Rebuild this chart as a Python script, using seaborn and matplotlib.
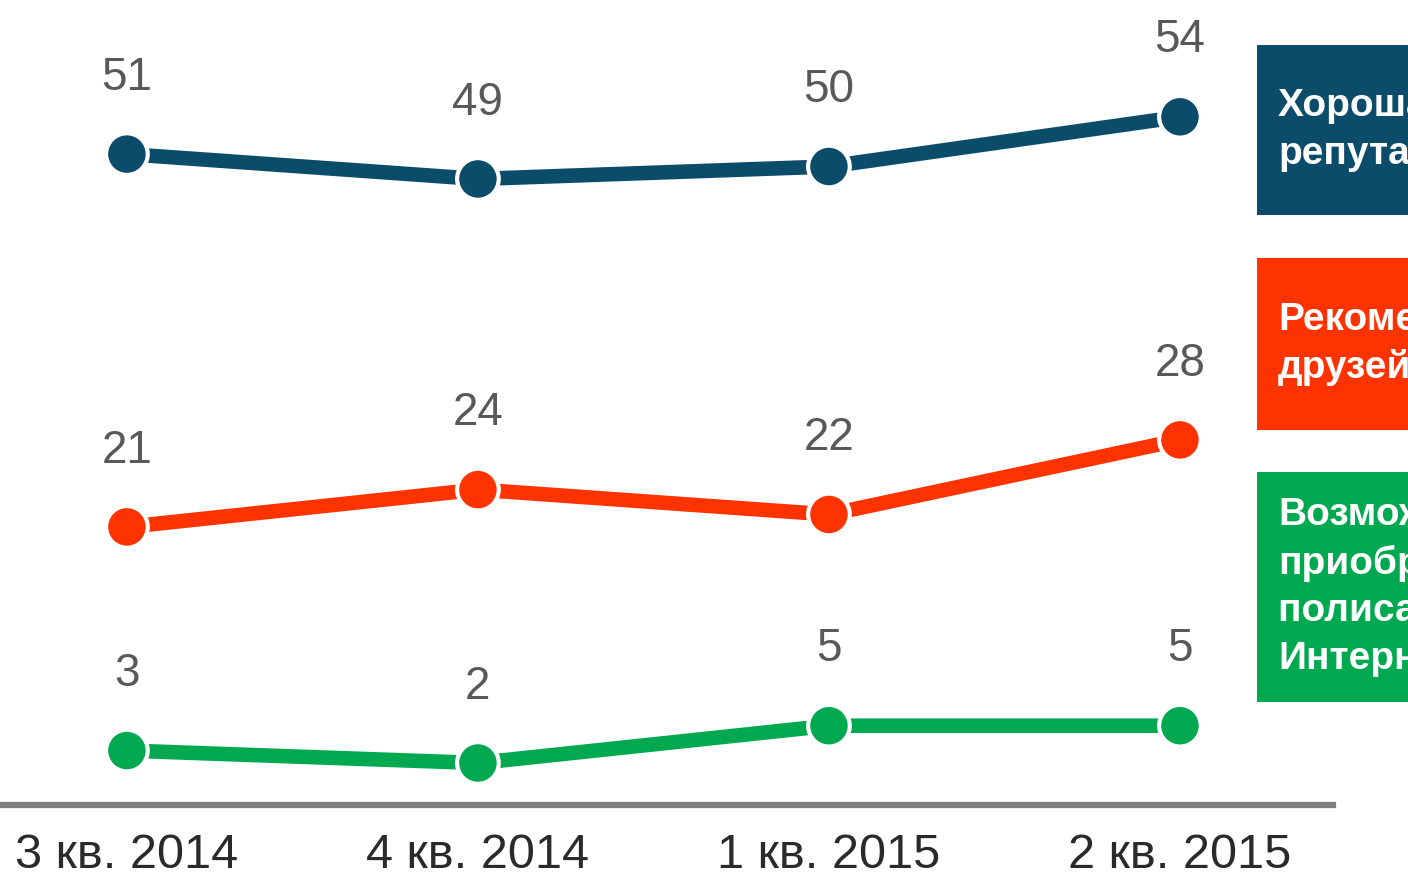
import matplotlib.pyplot as plt
import matplotlib.patches as mpatches
import pandas as pd
import seaborn as sns

# data
quarters = ['3 кв. 2014', '4 кв. 2014', '1 кв. 2015', '2 кв. 2015']
reputation = [51, 49, 50, 54]
friends = [21, 24, 22, 28]
internet = [3, 2, 5, 5]

series_names = ['Хорошая репутация', 'Рекомендации друзей',
                'Возможность приобретения полиса в Интернете']
box_texts = ['Хорошая\nрепутация', 'Рекомендации\nдрузей',
             'Возможность\nприобретения\nполиса в\nИнтернете']
colors = ['#0b4c6a', '#ff3300', '#00a84f']

rows = []
for name, vals in zip(series_names, [reputation, friends, internet]):
    for i, v in enumerate(vals):
        rows.append({'pos': i, 'value': v, 'series': name})
df = pd.DataFrame(rows)

sns.set_style('white')
plt.rcParams['font.family'] = ['Liberation Sans', 'DejaVu Sans']

fig = plt.figure(figsize=(14.08, 8.84), dpi=100)
ax = fig.add_axes([3 / 1408, 1 - 805 / 884, 1330 / 1408, 805 / 884])

palette = dict(zip(series_names, colors))
sns.lineplot(data=df, x='pos', y='value', hue='series', palette=palette,
             linewidth=10.5, legend=False, ax=ax, solid_capstyle='round')
sns.scatterplot(data=df, x='pos', y='value', hue='series', palette=palette,
                s=900, edgecolor='white', linewidth=3, legend=False, ax=ax,
                zorder=5)

# value labels above points
for vals in [reputation, friends, internet]:
    for i, v in enumerate(vals):
        ax.annotate(str(v), (i, v), xytext=(0, 55), textcoords='offset points',
                    ha='center', va='center', fontsize=33, color='#595959')

ax.set_xlim(-0.353, 3.436)
ax.set_ylim(-1.38, 63.4)
ax.set_xticks(range(len(quarters)))
ax.set_xticklabels(quarters, fontsize=35, color='#2a2a2a')
ax.tick_params(axis='x', length=0, pad=20)
ax.set_yticks([])
ax.set_xlabel('')
ax.set_ylabel('')
for s in ['top', 'right', 'left']:
    ax.spines[s].set_visible(False)
ax.spines['bottom'].set_color('#7f7f7f')
ax.spines['bottom'].set_linewidth(4.5)

# coloured boxes on the right, cut off by the figure edge as in the original
box_spans = [(45, 215), (258, 430), (472, 702)]
for (top, bottom), col, txt in zip(box_spans, colors, box_texts):
    rect = mpatches.Rectangle((1257 / 1408, 1 - bottom / 884), 400 / 1408,
                              (bottom - top) / 884, transform=fig.transFigure,
                              facecolor=col, edgecolor='none')
    fig.patches.append(rect)
    fig.text(1278 / 1408, 1 - (top + bottom) / 2 / 884, txt, color='white',
             fontsize=28, fontweight='bold', va='center', ha='left',
             linespacing=1.4)

fig.savefig('out.png', dpi=100)
plt.close()
